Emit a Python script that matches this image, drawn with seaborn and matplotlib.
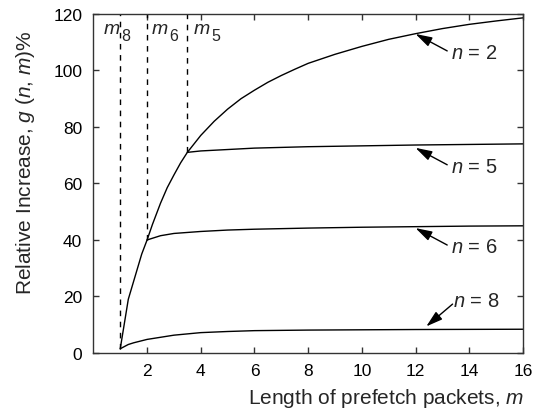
import numpy as np
import pandas as pd
import matplotlib
matplotlib.use("Agg")
import matplotlib.pyplot as plt
import matplotlib.transforms as mtransforms
import seaborn as sns

# Relative increase g(n, m)% versus prefetch packet length m
m_n2 = [1, 1.3, 1.8, 2, 2.2, 2.5, 2.75, 3, 3.25, 3.5, 4, 4.5, 5, 5.5, 6, 6.5, 7, 7.5,
        8, 9, 10, 11, 12, 13, 14, 15, 16]
g_n2 = [1.5, 19, 35, 40, 45.5, 53, 58.5, 63, 67.3, 71, 77, 82, 86.3, 90, 93, 95.8, 98.2,
        100.4, 102.5, 105.7, 108.5, 111, 113, 114.8, 116.3, 117.5, 118.6]

m_n5 = [3.5, 4, 5, 6, 8, 10, 12, 14, 16]
g_n5 = [71, 71.5, 72, 72.5, 73, 73.3, 73.6, 73.8, 74]

m_n6 = [2, 2.5, 3, 4, 5, 6, 8, 10, 12, 14, 16]
g_n6 = [40, 41.5, 42.3, 43, 43.5, 43.8, 44.2, 44.5, 44.7, 44.9, 45]

m_n8 = [1, 1.3, 1.5, 2, 3, 4, 5, 6, 8, 10, 12, 16]
g_n8 = [1.5, 3, 3.6, 4.8, 6.3, 7.2, 7.6, 7.9, 8.1, 8.2, 8.3, 8.4]

# thresholds m_n where each curve leaves the n = 2 curve
thresh_sub = ["8", "6", "5"]
thresh_m = [1, 2, 3.5]
thresh_g = [1.5, 40, 71]

# curve labels with arrows
curve_labels = ["2", "5", "6", "8"]
tip_m = [12, 12, 12, 12.4]
tip_g = [112.9, 72.6, 44.2, 9.4]

x_ticks = [2, 4, 6, 8, 10, 12, 14, 16]
y_ticks = [0, 20, 40, 60, 80, 100, 120]

sns.set_style("ticks")
plt.rcParams["font.family"] = ["Liberation Sans", "DejaVu Sans"]
plt.rcParams["mathtext.fontset"] = "custom"
plt.rcParams["mathtext.rm"] = "Liberation Sans"
plt.rcParams["mathtext.it"] = "Liberation Sans:italic"

fig, ax = plt.subplots(figsize=(5.43, 4.14), dpi=100)
fig.subplots_adjust(left=0.172, right=0.963, top=0.964, bottom=0.145)

frames = []
for name, mm, gg in [("2", m_n2, g_n2), ("5", m_n5, g_n5), ("6", m_n6, g_n6), ("8", m_n8, g_n8)]:
    frames.append(pd.DataFrame({"m": mm, "g": gg, "n": name}))
df = pd.concat(frames, ignore_index=True)

sns.lineplot(data=df, x="m", y="g", units="n", estimator=None, color="black",
             lw=1.0, ax=ax, legend=False, sort=False)

# dashed threshold markers with m_n labels (italic m, lowered digit)
ax.vlines(thresh_m, thresh_g, 120, colors="black", linestyles=(0, (4, 4)), lw=1.0)
label_left = [0.37, 2.17, 3.75]
sub_shift = mtransforms.offset_copy(ax.transData, fig=fig, x=17.5, y=-7.5, units="dots")
for sub, xl in zip(thresh_sub, label_left):
    ax.text(xl, 113.3, "m", fontsize=14, style="italic", ha="left", va="baseline")
    ax.text(xl, 113.3, sub, fontsize=11.5, ha="left", va="baseline", transform=sub_shift)

# "n = k" labels with arrows pointing at their curves
text_dx, text_dy = 1.33, -8.5      # text baseline offset from tip (data units)
tail_dx, tail_dy = 1.18, -6.0
for lab, tx, ty in zip(curve_labels, tip_m, tip_g):
    if lab == "8":
        xt, yt = tx + 1.0, ty + 7.3
        xa, ya = tx + 0.98, ty + 7.9
    else:
        xt, yt = tx + text_dx, ty + text_dy
        xa, ya = tx + tail_dx, ty + tail_dy
    ax.annotate("", xy=(tx, ty), xytext=(xa, ya),
                arrowprops=dict(arrowstyle="-|>,head_length=1.0,head_width=0.3",
                                mutation_scale=10, color="black", lw=1.0,
                                shrinkA=0, shrinkB=0))
    ax.text(xt, yt, "$n$ = " + lab, fontsize=14.5, ha="left", va="baseline")

ax.set_xlim(0, 16)
ax.set_ylim(0, 120)
ax.set_xticks(x_ticks)
ax.set_yticks(y_ticks)
ax.tick_params(direction="in", length=4, width=1, top=True, right=True,
               labelsize=12.5, colors="#333333", labelcolor="black")
ax.tick_params(axis="y", pad=8)
ax.tick_params(axis="x", pad=7)
for sp in ax.spines.values():
    sp.set_visible(True)
    sp.set_color("#333333")
    sp.set_linewidth(1.0)

ax.set_xlabel("Length of prefetch packets, $m$", fontsize=15)
ax.set_ylabel("Relative Increase, $g$ ($n$, $m$)%", fontsize=15)
ax.xaxis.set_label_coords(0.682, -0.097)
ax.yaxis.set_label_coords(-0.131, 0.565)

fig.savefig("out.png", dpi=100)
